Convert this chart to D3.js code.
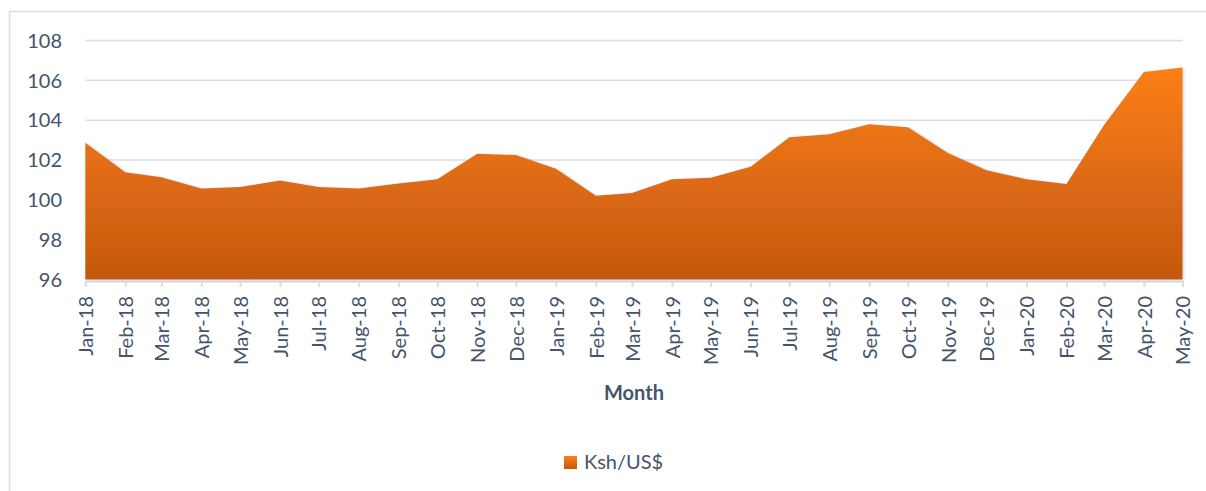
<!DOCTYPE html>
<html>
<head>
<meta charset="utf-8">
<script src="https://cdn.jsdelivr.net/npm/d3@7"></script>
<style>
  body { margin: 0; background: #fff; }
  svg { font-family: Lato, "Open Sans", sans-serif; }
</style>
</head>
<body>
<svg id="chart" width="1206" height="491"></svg>
<script>
// month labels and Ksh/US$ rate
const months = ["Jan-18","Feb-18","Mar-18","Apr-18","May-18","Jun-18","Jul-18","Aug-18","Sep-18","Oct-18","Nov-18","Dec-18",
  "Jan-19","Feb-19","Mar-19","Apr-19","May-19","Jun-19","Jul-19","Aug-19","Sep-19","Oct-19","Nov-19","Dec-19",
  "Jan-20","Feb-20","Mar-20","Apr-20","May-20"];
const rates = [102.87,101.38,101.14,100.57,100.64,100.97,100.64,100.57,100.82,101.03,102.32,102.25,
  101.56,100.2,100.34,101.03,101.11,101.66,103.14,103.29,103.79,103.65,102.35,101.48,
  101.03,100.79,103.74,106.42,106.65];
const yTicks = [96, 98, 100, 102, 104, 106, 108];

const parseMonth = d3.timeParse("%b-%y");
const data = months.map((m, i) => ({date: parseMonth(m), label: m, value: rates[i]}));

const svg = d3.select("#chart");
const textColor = "#44546A";

// outer chart frame
svg.append("rect")
  .attr("x", 9.5).attr("y", 11.5)
  .attr("width", 1210).attr("height", 490)
  .attr("fill", "none")
  .attr("stroke", "#D9DEE4")
  .attr("stroke-width", 1.5);

const x = d3.scaleTime()
  .domain(d3.extent(data, d => d.date))
  .range([85.3, 1182.5]);
const y = d3.scaleLinear().domain([96, 108]).range([279.5, 40.5]);

// gradient + soft edge shadow
const defs = svg.append("defs");
const grad = defs.append("linearGradient")
  .attr("id", "orangeFill")
  .attr("x1", 0).attr("y1", 0).attr("x2", 0).attr("y2", 1);
grad.append("stop").attr("offset", "0%").attr("stop-color", "#FC7F18");
grad.append("stop").attr("offset", "100%").attr("stop-color", "#C4580F");

const shadow = defs.append("filter").attr("id", "shade")
  .attr("x", "-2%").attr("y", "-5%").attr("width", "104%").attr("height", "110%");
shadow.append("feDropShadow")
  .attr("dx", 1.5).attr("dy", 0.5).attr("stdDeviation", 1)
  .attr("flood-color", "#999").attr("flood-opacity", 0.45);

// gridlines
svg.append("g")
  .selectAll("line")
  .data(yTicks.filter(t => t > 96))
  .join("line")
  .attr("x1", x.range()[0]).attr("x2", x.range()[1])
  .attr("y1", d => y(d)).attr("y2", d => y(d))
  .attr("stroke", "#D9DEE4")
  .attr("stroke-width", 1.5);

// area
const area = d3.area()
  .x(d => x(d.date))
  .y0(y(96))
  .y1(d => y(d.value));

svg.append("path")
  .datum(data)
  .attr("d", area)
  .attr("fill", "url(#orangeFill)")
  .attr("filter", "url(#shade)");

// y axis labels
svg.append("g")
  .selectAll("text")
  .data(yTicks)
  .join("text")
  .attr("x", 62)
  .attr("y", d => y(d))
  .attr("dy", "0.36em")
  .attr("text-anchor", "end")
  .attr("fill", textColor)
  .attr("font-size", 20)
  .text(d => d);

// x axis
const xAxis = svg.append("g")
  .attr("transform", `translate(0,${y(96) + 1.5})`)
  .call(d3.axisBottom(x)
    .tickValues(data.map(d => d.date))
    .tickFormat((d, i) => months[i])
    .tickSize(6)
    .tickPadding(9));

xAxis.select(".domain").attr("stroke", "#D0D5DB").attr("stroke-width", 2);
xAxis.selectAll(".tick line").attr("stroke", "#D9DEE4").attr("stroke-width", 2);
xAxis.selectAll(".tick text")
  .attr("transform", "rotate(-90)")
  .attr("text-anchor", "end")
  .attr("x", -15)
  .attr("y", 0)
  .attr("dy", "0.36em")
  .attr("fill", textColor)
  .attr("font-size", 20)
  .attr("font-family", "Lato, 'Open Sans', sans-serif");

// axis title
svg.append("text")
  .attr("x", 634).attr("y", 400)
  .attr("text-anchor", "middle")
  .attr("font-weight", "bold")
  .attr("font-size", 20)
  .attr("fill", textColor)
  .text("Month");

// legend
const legend = svg.append("g").attr("transform", "translate(564,456)");
legend.append("rect")
  .attr("width", 13).attr("height", 13)
  .attr("fill", "url(#orangeFill)");
legend.append("text")
  .attr("x", 20).attr("y", 13)
  .attr("font-size", 20)
  .attr("fill", textColor)
  .text("Ksh/US$");
</script>
</body>
</html>
